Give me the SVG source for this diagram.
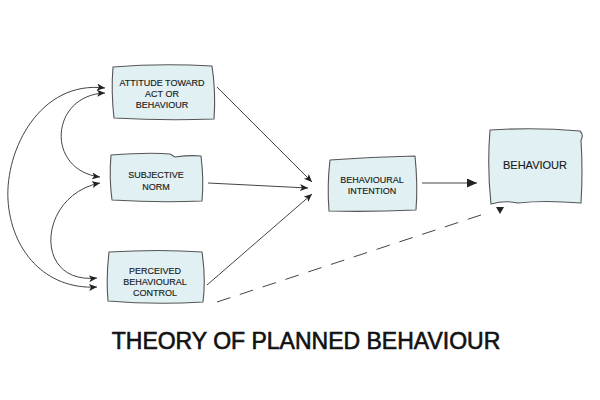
<svg xmlns="http://www.w3.org/2000/svg" width="600" height="400" viewBox="0 0 600 400">
<defs>
<style>
.box{fill:#e1f1f3;stroke:#555;stroke-width:1.1;stroke-linejoin:round}
.t{font-family:"Liberation Sans",Arial,sans-serif;font-size:9px;fill:#1a1a1a;text-anchor:middle;stroke:#1a1a1a;stroke-width:0.15}
.ln{fill:none;stroke:#444;stroke-width:1}
.title{font-family:"Liberation Sans",Arial,sans-serif;font-size:23px;fill:#111;stroke:#111;stroke-width:0.6;text-anchor:middle}
</style>
<marker id="ah" markerUnits="userSpaceOnUse" markerWidth="10" markerHeight="8" refX="8" refY="3.5" orient="auto">
<path d="M0,0 L8,3.5 L0,7 L2,3.5 Z" fill="#222"/>
</marker>
<marker id="ahs" markerUnits="userSpaceOnUse" markerWidth="10" markerHeight="8" refX="8" refY="3.5" orient="auto-start-reverse">
<path d="M0,0 L8,3.5 L0,7 L2,3.5 Z" fill="#222"/>
</marker>
<marker id="ahb" markerUnits="userSpaceOnUse" markerWidth="12" markerHeight="10" refX="10" refY="4.5" orient="auto">
<path d="M0,0 L10,4.5 L0,9 Z" fill="#222"/>
</marker>
</defs>
<rect width="600" height="400" fill="#fff"/>
<g id="connectors">
<path class="ln" d="M105,88 C40,80 5,150 8,200 C11,250 45,290 97,287" marker-start="url(#ahs)" marker-end="url(#ah)"/>
<path class="ln" d="M105,93 C50,95 45,170 100,177" marker-start="url(#ahs)" marker-end="url(#ah)"/>
<path class="ln" d="M100,183 C38,195 32,285 97,278" marker-start="url(#ahs)" marker-end="url(#ah)"/>
<path class="ln" d="M217,87 L312,182" marker-end="url(#ah)"/>
<path class="ln" d="M208,183 L308,188" marker-end="url(#ah)"/>
<path class="ln" d="M207,285 L312,194" marker-end="url(#ah)"/>
<path class="ln" d="M422,183 L477,183" marker-end="url(#ahb)"/>
<path class="ln" d="M217,302 L490,212" stroke-dasharray="14,10"/>
<polygon points="496,207 504,207 500,214" fill="#222"/>
</g>
<g id="attitude">
<path class="box" d="M113,67 Q160,63 212,66 Q216,92 214,119 Q165,121 114,118 Q111,92 113,67 Z"/>
<text class="t" x="162" y="86">ATTITUDE TOWARD</text>
<text class="t" x="162" y="97">ACT OR</text>
<text class="t" x="162" y="108">BEHAVIOUR</text>
</g>
<g id="subjective-norm">
<path class="box" d="M111,155 Q150,152 170,154 L175,157 Q190,155 201,156 Q204,180 202,201 Q160,203 112,200 Q109,178 111,155 Z"/>
<text class="t" x="156" y="178">SUBJECTIVE</text>
<text class="t" x="156" y="190">NORM</text>
</g>
<g id="perceived-control">
<path class="box" d="M109,252 Q160,249 202,252 Q206,278 203,302 Q155,305 108,301 Q106,277 109,252 Z"/>
<text class="t" x="155" y="274">PERCEIVED</text>
<text class="t" x="155" y="285">BEHAVIOURAL</text>
<text class="t" x="155" y="296">CONTROL</text>
</g>
<g id="intention">
<path class="box" d="M330,160 Q370,157 415,156 Q418,185 416,210 Q370,212 329,211 Q327,185 330,160 Z"/>
<text class="t" x="372" y="183">BEHAVIOURAL</text>
<text class="t" x="372" y="194">INTENTION</text>
</g>
<g id="behaviour">
<path class="box" d="M490,130 Q535,127 580,131 Q584,135 581,140 Q583,172 581,203 Q545,200 518,203 Q505,200 491,204 Q487,167 490,130 Z"/>
<text class="t" x="535" y="169" style="font-size:11px">BEHAVIOUR</text>
</g>
<text class="title" x="306" y="349">THEORY OF PLANNED BEHAVIOUR</text>
</svg>
